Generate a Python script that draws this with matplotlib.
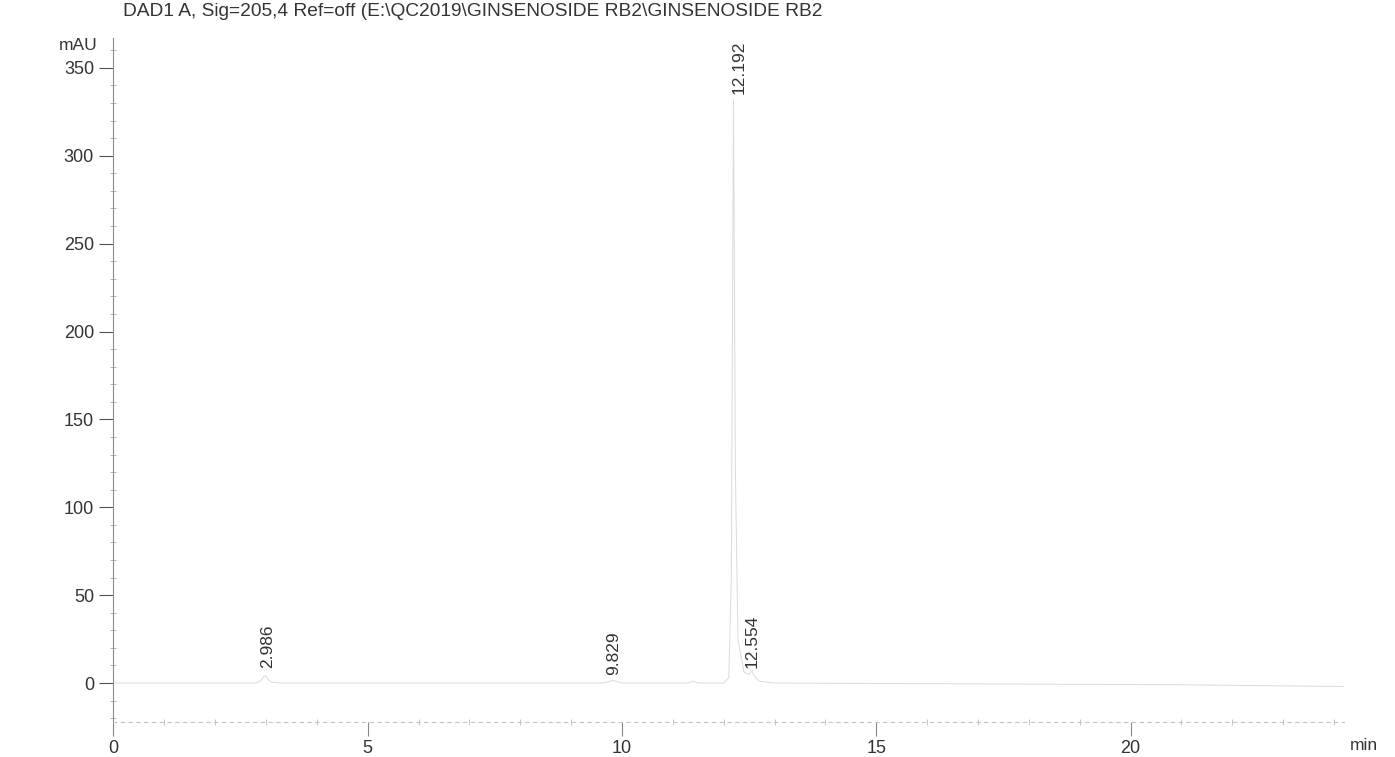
import matplotlib
matplotlib.use("Agg")
import matplotlib.pyplot as plt
from matplotlib.ticker import MultipleLocator

plt.rcParams['font.family'] = ['Liberation Sans', 'DejaVu Sans']

title = r"DAD1 A, Sig=205,4 Ref=off (E:\QC2019\GINSENOSIDE RB2\GINSENOSIDE RB2"

# chromatogram trace (min, mAU)
trace_t = [0.0, 2.80, 2.90, 2.95, 2.986, 3.03, 3.10, 3.30, 9.60, 9.75, 9.829, 9.90, 10.0,
           11.30, 11.40, 11.50, 12.00, 12.10, 12.15, 12.192, 12.23, 12.28, 12.40, 12.50,
           12.554, 12.60, 12.70, 13.0, 21.0, 24.2]
trace_y = [0.0, 0.0, 1.5, 3.5, 4.0, 2.5, 0.5, 0.0, 0.0, 0.8, 1.5, 0.8, 0.0,
           0.0, 1.0, 0.0, 0.0, 3.0, 60.0, 332.0, 120.0, 25.0, 6.0, 5.0,
           7.0, 4.0, 1.0, 0.0, -1.0, -2.0]

peak_rt = ["2.986", "9.829", "12.192", "12.554"]
peak_x = [2.986, 9.829, 12.192, 12.554]
peak_h = [4.0, 1.5, 332.0, 7.0]

y_ticks = [0, 50, 100, 150, 200, 250, 300, 350]
x_ticks = [0, 5, 10, 15, 20]

fig = plt.figure(figsize=(13.95, 7.57), dpi=100)
ax = fig.add_axes([113.5 / 1395, 0.0462, 1230.6 / 1395, 0.9036])
ax.plot(trace_t, trace_y, color='#dadada', lw=0.7)

ax.set_xlim(0, 24.2)
ax.set_ylim(-22.2, 367)
ax.set_xticks(x_ticks)
ax.set_yticks(y_ticks)
ax.xaxis.set_minor_locator(MultipleLocator(1))
ax.yaxis.set_minor_locator(MultipleLocator(10))

for s in ['top', 'right']:
    ax.spines[s].set_visible(False)
ax.spines['left'].set_color('#8a8a8a')
ax.spines['left'].set_linewidth(0.8)
ax.spines['bottom'].set_color('#c4c4c4')
ax.spines['bottom'].set_linewidth(0.8)
ax.spines['bottom'].set_linestyle((0, (3, 4)))

ax.tick_params(axis='y', which='major', direction='out', length=10, width=0.8,
               color='#555555', labelsize=13, pad=4, labelcolor='#333333')
ax.tick_params(axis='y', which='minor', direction='inout', length=4, width=0.6, color='#aaaaaa')
ax.tick_params(axis='x', which='major', direction='out', length=10, width=0.8,
               color='#888888', labelsize=13, pad=3, labelcolor='#333333')
ax.tick_params(axis='x', which='minor', direction='inout', length=5, width=0.6, color='#bbbbbb')

# peak retention-time labels
dx = [1.5, 0, 4, 0]
dy = [6, 4, 4, 2]
for lab, px, py, ox, oy in zip(peak_rt, peak_x, peak_h, dx, dy):
    ax.annotate(lab, xy=(px, py), xytext=(ox, oy), textcoords='offset points',
                rotation=90, ha='center', va='bottom', fontsize=12.5, color='#333333')

fig.text(123 / 1395, 1 - 11 / 757, title, fontsize=13.8, color='#333333', va='center', ha='left')
fig.text(98 / 1395, 1 - 45 / 757, "mAU", fontsize=12.5, color='#333333', va='center', ha='right')
fig.text(1378 / 1395, 1 - 745 / 757, "min", fontsize=12.5, color='#333333', va='center', ha='right')

fig.savefig("out.png", dpi=100, facecolor='white')
